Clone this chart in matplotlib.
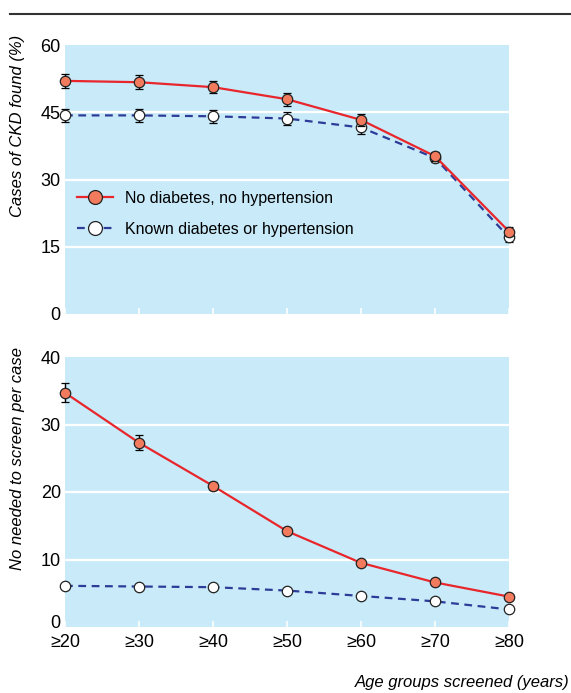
import numpy as np
import matplotlib
matplotlib.use("Agg")
import matplotlib.pyplot as plt
import matplotlib.transforms as mtransforms
from matplotlib.lines import Line2D

plt.rcParams['font.family'] = ['Liberation Sans Narrow', 'Liberation Sans', 'DejaVu Sans']

AGE_LABELS = ['≥20', '≥30', '≥40', '≥50', '≥60', '≥70', '≥80']

# cases of CKD found (%)
ckd_no_dm = [52.0, 51.7, 50.6, 47.9, 43.3, 35.2, 18.4]
ckd_no_dm_err = [1.5, 1.5, 1.4, 1.4, 1.4, 1.0, 1.1]
ckd_known = [44.3, 44.3, 44.1, 43.6, 41.6, 34.8, 17.1]
ckd_known_err = [1.5, 1.5, 1.5, 1.5, 1.4, 1.0, 1.0]

# number needed to screen per case
nns_no_dm = [34.7, 27.3, 20.9, 14.2, 9.5, 6.6, 4.5]
nns_no_dm_err = [1.4, 1.1, 0.6, 0.4, 0.3, 0.2, 0.2]
nns_known = [6.1, 6.0, 5.9, 5.4, 4.6, 3.8, 2.6]
nns_known_err = [0.1, 0.1, 0.1, 0.1, 0.1, 0.1, 0.1]

BG = '#c8eaf9'
RED = '#e8262b'
RED_FACE = '#f27b5e'
BLUE = '#2d3c98'
DASH = (0, (3.5, 2.5))

W, H = 571, 693
fig = plt.figure(figsize=(W / 100, H / 100), dpi=100)


def px_axes(x0, y0, x1, y1):
    return fig.add_axes([x0 / W, 1 - y1 / H, (x1 - x0) / W, (y1 - y0) / H])


def draw_panel(ax, red_vals, red_err, blue_vals, blue_err, ymax, yticks):
    x = np.arange(len(AGE_LABELS))
    ax.set_facecolor(BG)
    for s in ax.spines.values():
        s.set_visible(False)
    for yt in yticks[1:-1]:
        ax.axhline(yt, color='white', lw=1.6, zorder=1)
    ax.errorbar(x, blue_vals, yerr=blue_err, color=BLUE, lw=1.6, ls=DASH,
                marker='o', ms=7.5, mfc='white', mec='#222222', mew=0.9,
                ecolor='black', elinewidth=1, capsize=3, capthick=1,
                zorder=3, clip_on=False)
    ax.errorbar(x, red_vals, yerr=red_err, color=RED, lw=1.6,
                marker='o', ms=7.5, mfc=RED_FACE, mec='#222222', mew=0.9,
                ecolor='black', elinewidth=1, capsize=3, capthick=1,
                zorder=4, clip_on=False)
    ax.set_xlim(0, len(AGE_LABELS) - 1)
    ax.set_ylim(0, ymax)
    ax.set_yticks(yticks)
    ax.set_xticks(x)
    ax.tick_params(axis='y', length=0, pad=3, labelsize=13)
    ax.tick_params(axis='x', direction='in', length=4, width=1.2, color='white',
                   labelsize=13, pad=5)


ax1 = px_axes(65, 45, 509, 314)
draw_panel(ax1, ckd_no_dm, ckd_no_dm_err, ckd_known, ckd_known_err, 60, [0, 15, 30, 45, 60])
ax1.set_xticklabels([])
h_red = Line2D([], [], color=RED, lw=1.6, marker='o', ms=10, mfc=RED_FACE, mec='#222222', mew=0.9)
h_blue = Line2D([], [], color=BLUE, lw=1.6, ls=DASH, marker='o', ms=10, mfc='white',
                mec='#222222', mew=0.9)
ax1.legend([h_red, h_blue], ['No diabetes, no hypertension', 'Known diabetes or hypertension'],
           loc='center left', bbox_to_anchor=(0.0135, 0.372), frameon=False, fontsize=11.5,
           handlelength=2.25, handletextpad=0.75, labelspacing=1.0, borderaxespad=0)

ax2 = px_axes(65, 357, 509, 627)
draw_panel(ax2, nns_no_dm, nns_no_dm_err, nns_known, nns_known_err, 40, [0, 10, 20, 30, 40])
ax2.set_xticklabels(AGE_LABELS)
# the bottom "0" sits a little higher, clear of the x tick labels
fig.canvas.draw()
zero_lbl = ax2.get_yticklabels()[0]
zero_lbl.set_transform(zero_lbl.get_transform() +
                       mtransforms.ScaledTranslation(0, 5 / 100, fig.dpi_scale_trans))

fig.text(18 / W, 1 - 35 / H, 'Cases of CKD found (%)', rotation=90, ha='center', va='top',
         fontsize=12, style='italic')
fig.text(18 / W, 1 - 347 / H, 'No needed to screen per case', rotation=90, ha='center', va='top',
         fontsize=12, style='italic')
fig.text(569 / W, 1 - 683 / H, 'Age groups screened (years)', ha='right', va='center',
         fontsize=12, style='italic')

fig.add_artist(Line2D([10 / W, 1.0], [1 - 14 / H, 1 - 14 / H], color='#333333', lw=1.5))

fig.savefig('out.png', dpi=100)
